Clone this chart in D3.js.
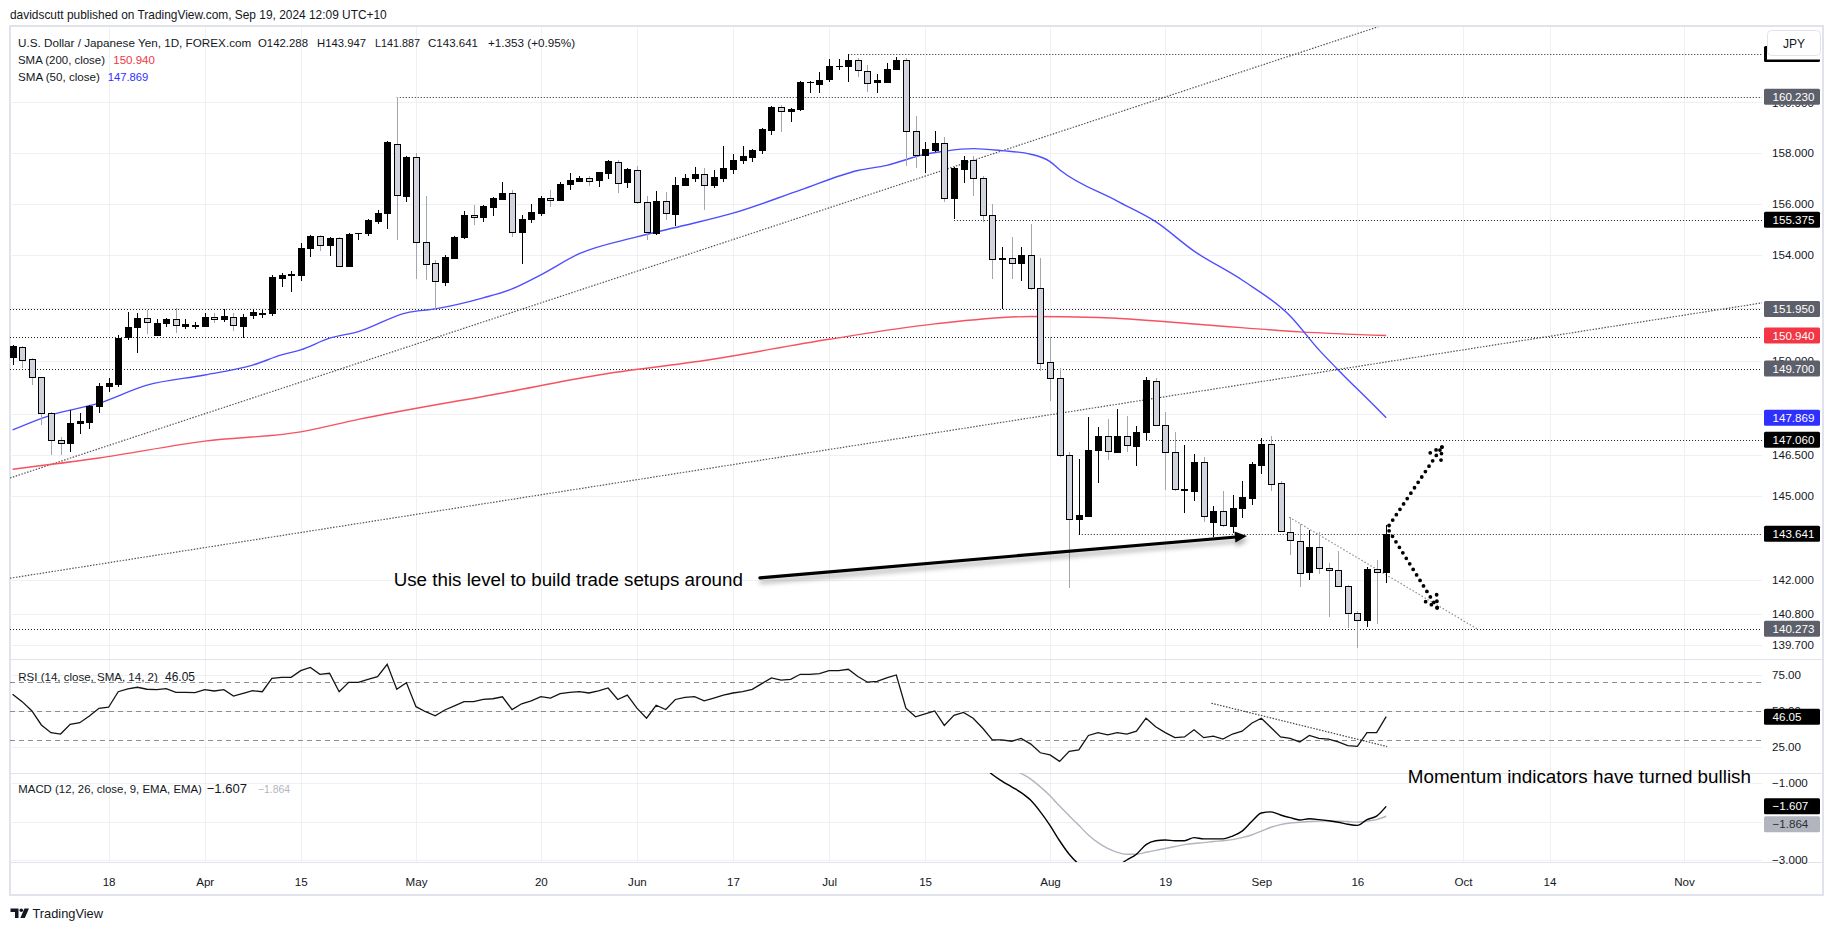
<!DOCTYPE html>
<html><head><meta charset="utf-8">
<script src="https://cdn.jsdelivr.net/npm/d3@7"></script>
<style>
html,body{margin:0;padding:0;background:#fff;}
svg{display:block;font-family:"Liberation Sans",Arial,sans-serif;}
</style></head><body>
<svg id="chart" width="1835" height="931"></svg>
<script>
// ---------------- DATA ----------------
const firstDay = "2024-03-04";
const opens = [150.12,150.52,150.05,149.37,148.04,147.05,146.93,147.67,147.72,148.31,
149.05,149.14,150.86,151.25,151.59,150.97,151.41,151.56,151.30,151.30,
151.30,151.63,151.56,151.65,151.30,151.73,151.76,151.78,153.15,153.25,
153.25,154.27,154.75,154.39,154.65,153.60,154.84,154.84,155.33,155.64,
158.34,156.30,157.82,154.52,153.69,152.99,153.92,154.70,155.56,155.47,
155.87,156.18,156.40,154.88,155.39,155.66,156.23,156.16,156.78,156.90,
157.00,156.90,157.20,157.65,156.83,157.30,156.05,154.87,156.10,155.62,
156.74,157.02,157.16,156.70,156.99,157.39,157.70,157.82,158.09,158.90,
159.80,159.65,159.70,160.78,160.76,160.93,161.45,161.47,161.70,161.27,
160.80,160.85,161.36,161.72,158.86,157.89,158.10,158.38,156.20,157.39,
157.73,157.00,155.56,153.85,153.90,153.71,154.01,152.76,149.93,149.34,
146.50,144.16,144.28,146.69,147.18,146.63,147.18,146.83,147.33,149.25,
147.60,146.60,145.25,145.20,146.26,144.05,144.46,143.92,144.58,144.95,
146.16,146.92,145.47,143.72,143.40,142.27,143.16,142.41,142.35,141.79,
140.82,140.56,142.38,142.288];
const highs = [150.58,150.55,150.10,149.40,148.10,147.17,148.16,148.04,148.35,149.15,
149.33,150.97,151.85,151.78,151.90,151.56,151.60,151.97,151.56,151.44,
151.78,151.78,151.93,151.78,151.75,151.93,151.90,153.24,153.33,153.40,
154.49,154.79,154.79,154.72,154.70,154.85,154.86,155.39,155.76,158.45,
160.20,157.87,158.00,156.28,153.82,154.00,154.75,155.70,155.95,155.95,
156.26,156.83,156.55,155.56,155.98,156.28,156.55,156.85,157.19,157.10,
157.10,157.25,157.71,157.70,157.40,157.47,156.30,156.50,156.45,157.06,
157.17,157.45,157.40,157.30,158.25,157.96,158.25,158.16,158.97,159.87,
159.90,159.77,160.87,160.87,161.23,161.75,161.75,161.95,161.80,161.50,
161.13,161.59,161.82,161.78,159.45,158.42,158.86,158.64,157.45,157.86,
157.86,157.10,156.00,154.33,154.72,154.33,155.22,153.90,150.88,149.73,
146.60,146.34,147.90,147.52,147.82,148.20,147.93,147.58,149.38,149.35,
148.07,147.35,146.86,146.52,146.44,144.65,145.18,145.03,145.54,146.24,
147.14,147.18,145.55,144.26,144.00,143.78,143.71,142.60,143.03,141.80,
140.88,142.45,142.71,143.947];
const lows = [149.83,149.71,149.08,147.61,146.50,146.50,146.62,147.27,147.45,148.06,
148.82,149.00,150.78,150.30,151.00,150.95,151.25,151.05,151.18,151.20,
151.25,151.43,151.45,151.10,150.83,151.57,151.60,151.68,152.80,152.60,
153.00,153.95,154.18,153.98,153.58,153.57,154.57,154.75,155.20,155.00,
154.59,156.08,153.10,153.05,151.89,152.82,153.88,154.62,155.17,155.30,
155.52,156.14,154.71,153.65,155.26,155.53,155.87,156.13,156.55,156.85,
156.70,156.64,156.95,156.41,156.60,155.99,154.59,154.80,155.36,155.12,
156.72,156.86,155.75,156.60,156.83,157.15,157.55,157.63,157.96,158.71,
158.80,159.22,159.65,160.36,160.36,160.82,161.32,160.83,161.00,160.40,
160.36,160.78,161.30,157.48,157.41,157.20,158.02,156.06,155.39,156.80,
156.30,155.27,153.10,151.94,153.10,153.00,152.65,149.60,148.50,146.44,
141.70,143.60,144.28,145.47,146.32,146.60,146.60,146.09,147.05,147.60,
145.21,145.20,144.40,144.83,144.05,143.52,143.90,143.66,144.22,144.67,
145.80,145.17,143.70,142.89,141.76,142.00,142.21,140.70,141.79,140.30,
139.60,140.33,140.44,141.887];
const closes = [150.54,150.05,149.37,148.04,147.05,146.93,147.67,147.76,148.31,149.05,
149.15,150.86,151.25,151.59,151.43,151.41,151.56,151.33,151.37,151.35,
151.63,151.56,151.68,151.34,151.63,151.83,151.81,153.15,153.26,153.27,
154.27,154.75,154.40,154.65,153.59,154.84,154.85,155.36,155.64,158.43,
156.32,157.82,154.52,153.69,152.99,153.94,154.72,155.56,155.47,155.90,
156.22,156.42,154.88,155.39,155.66,156.23,156.16,156.78,156.93,157.00,
156.90,157.22,157.67,156.83,157.35,156.05,154.88,156.10,155.62,156.74,
157.02,157.16,156.71,157.03,157.39,157.73,157.87,158.10,158.93,159.83,
159.66,159.72,160.80,160.80,160.91,161.45,161.47,161.70,161.30,160.80,
160.90,161.36,161.72,158.86,157.89,158.13,158.38,156.20,157.39,157.73,
157.02,155.56,153.87,153.90,153.71,154.01,152.76,149.93,149.34,146.49,
144.16,144.31,146.69,147.20,146.63,147.20,146.84,147.33,149.27,147.61,
146.60,145.25,145.27,146.26,144.30,144.46,143.94,144.58,144.97,146.18,
146.92,145.47,143.72,143.42,142.27,143.16,142.41,142.33,141.79,140.82,
140.56,142.38,142.29,143.641];

// moving averages (bar index, value)
const sma50At = [0,4,9,14,20,25,28,30,33,36,41,44,49,52,55,59,65,70,75,82,88,91,95,97,100,103,106,108,109,115,119,123,128,133,136,138,142,143];
const sma50 = [147.42,147.97,148.41,149.08,149.46,149.83,150.21,150.40,150.84,151.09,151.80,151.95,152.37,152.71,153.25,154.06,154.71,155.16,155.63,156.53,157.30,157.50,157.94,158.06,158.16,158.08,157.94,157.65,157.33,156.10,155.30,154.16,153.05,151.68,150.40,149.65,148.23,147.869];
const sma200At = [0,9,20,30,36,51,61,72,85,96,106,113,124,134,143];
const sma200 = [145.98,146.39,147.01,147.35,147.81,148.79,149.46,150.00,150.80,151.38,151.66,151.62,151.35,151.08,150.94];

// RSI (14)
const rsiAt = d3.range(0,144);
const rsi = [61.6,56.5,50.2,40.3,34.9,34.0,40.8,41.9,46.5,51.9,
52.6,63.4,65.3,66.5,65.1,64.8,65.5,63.0,63.0,62.7,
64.8,63.9,64.8,60.4,62.3,64.1,63.4,72.7,73.4,73.4,
78.0,80.3,75.5,76.2,63.4,69.9,69.9,72.0,73.8,82.4,
65.1,69.7,53.0,49.5,46.7,50.7,53.5,56.5,56.5,58.1,
58.5,59.9,51.0,55.0,57.0,60.0,59.0,62.0,63.0,63.5,
62.5,64.0,66.0,58.0,61.0,52.0,45.0,54.0,51.0,58.0,
59.5,60.0,57.0,59.0,61.0,62.5,63.5,65.0,69.0,73.0,
71.5,72.0,75.5,75.5,76.0,78.0,78.0,79.0,74.0,70.0,
70.5,73.0,75.0,52.0,46.0,48.0,50.0,40.0,47.0,49.0,
45.0,38.0,30.0,30.0,29.0,31.0,27.0,21.0,19.5,15.0,
22.0,23.0,33.0,35.0,33.5,35.0,34.0,36.0,45.0,39.0,
35.0,31.5,32.0,37.0,31.5,32.5,30.5,34.0,36.0,41.5,
45.0,38.5,32.0,31.0,28.5,33.0,31.0,30.5,28.5,26.0,
25.5,35.0,35.0,46.05];

// MACD (12,26,9)
const macdAt = d3.range(101,144);
const macd = [-0.55,-0.78,-0.95,-1.10,-1.25,-1.45,-1.75,-2.10,-2.50,-2.85,
-3.10,-3.20,-3.25,-3.22,-3.15,-3.00,-2.85,-2.60,-2.50,-2.48,
-2.50,-2.50,-2.42,-2.45,-2.45,-2.45,-2.38,-2.25,-2.00,-1.78,
-1.75,-1.83,-1.90,-1.96,-1.93,-1.95,-1.98,-2.02,-2.07,-2.10,
-1.95,-1.86,-1.607];
const signalAt = d3.range(104,144);
const signal = [-0.60,-0.75,-0.90,-1.10,-1.33,-1.60,-1.85,-2.10,-2.35,-2.55,
-2.70,-2.80,-2.85,-2.85,-2.80,-2.75,-2.70,-2.65,-2.60,-2.57,
-2.55,-2.52,-2.50,-2.47,-2.42,-2.35,-2.25,-2.15,-2.08,-2.04,
-2.02,-2.00,-1.99,-1.98,-1.99,-2.00,-2.02,-1.99,-1.95,-1.864];

// axis ticks (labelled ticks, plus grid-only levels hidden behind tags in the picture)
const priceTicks = [160,158,156,154,150,146.5,145,142,140.8,139.7];
const priceGrid = [160,158,156,154,152,150,148,146.5,145,142,140.8,139.7];
const rsiTicks = [75,50,25];
const macdTicks = [-1,-3];
const macdGrid = [-1,-2,-3];
const tickDates = ["2024-03-18","2024-04-01","2024-04-15","2024-05-01","2024-05-20","2024-06-03","2024-06-17","2024-07-01","2024-07-15","2024-08-01","2024-08-19","2024-09-02","2024-09-16","2024-10-01","2024-10-14","2024-11-01"];
const tickLabels = ["18","Apr","15","May","20","Jun","17","Jul","15","Aug","19","Sep","16","Oct","14","Nov"];

// horizontal levels (price, starting date; null = from the left edge)
const levelPrices = [161.95,160.23,155.375,151.95,150.9,149.7,147.06,143.641,140.273];
const levelFrom = ["2024-07-03","2024-04-29","2024-07-18",null,null,null,"2024-08-15","2024-08-06",null];

// price tags on the right scale
const tagPrices = [161.95,160.23,155.375,151.95,150.94,149.7,147.869,147.06,143.641,140.273];
const tagLabels = ["161.950","160.230","155.375","151.950","150.940","149.700","147.869","147.060","143.641","140.273"];

// trend lines (bar index, price)
const upTrend = [[0,145.69],[130,161.49]];
const lowTrend = [[0,142.07],[182,152.17]];
const sepTrend = [[132.9,144.24],[152.5,140.26]];
const rsiTrend = [[124.8,55.4],[143.1,25.3]];
const mainArrow = [[77.8,142.07],[128.5,143.56]];
const upArrow = [[143.3,143.94],[148.8,146.79]];
const downArrow = [[143.3,143.75],[148.3,141.01]];

// ---------------- LAYOUT ----------------
const L=10, R=1762, AXR=1823;
const mainTop=27, mainBot=659, rsiBot=773, macdBot=862, axisBot=895;
const TXT="#131722", GRID="#eef0f4", BORDER="#e0e3eb";

const svg = d3.select("#chart");
svg.append("rect").attr("width",1835).attr("height",931).attr("fill","#fff");
const defs = svg.append("defs");
defs.append("clipPath").attr("id","cMain").append("rect").attr("x",L).attr("y",mainTop).attr("width",R-L).attr("height",mainBot-mainTop);
defs.append("clipPath").attr("id","cRsi").append("rect").attr("x",L).attr("y",mainBot).attr("width",R-L).attr("height",rsiBot-mainBot);
defs.append("clipPath").attr("id","cMacd").append("rect").attr("x",L).attr("y",rsiBot).attr("width",R-L).attr("height",macdBot-rsiBot);
const f = defs.append("filter").attr("id","shadow").attr("x","-10%").attr("y","-200%").attr("width","120%").attr("height","500%");
f.append("feDropShadow").attr("dx",1).attr("dy",4).attr("stdDeviation",2.5).attr("flood-color","#000").attr("flood-opacity",0.35);

// trading days
const days=[]; { let d=new Date(firstDay+"T00:00:00Z"); while(days.length<200){ const w=d.getUTCDay(); if(w!==0&&w!==6) days.push(d.toISOString().slice(0,10)); d.setUTCDate(d.getUTCDate()+1);} }
const idx = s => days.indexOf(s);

// scales
const xs = d3.scaleLinear().domain([0,100]).range([12.54, 12.54+960.6]);
const ys = d3.scaleLog().domain([158,139.7]).range([152.7,645.1]);
const yr = d3.scaleLinear().domain([50,25]).range([711,747]);
const ym = d3.scaleLinear().domain([-1,-3]).range([783,860]);
const tickIdx = tickDates.map(idx);

function fit(sel,w){ const n=sel.node(); const fs=parseFloat(sel.attr("font-size")); const cw=n.getComputedTextLength(); sel.attr("font-size",(fs*w/cw).toFixed(2)); return sel; }
// header
fit(svg.append("text").attr("x",10).attr("y",19).attr("font-size",12).attr("fill",TXT).text("davidscutt published on TradingView.com, Sep 19, 2024 12:09 UTC+10"),377);

// frame
svg.append("rect").attr("x",L).attr("y",26).attr("width",AXR-L).attr("height",axisBot-26).attr("fill","none").attr("stroke",BORDER).attr("stroke-width",2);

// grid
const grid = svg.append("g").attr("shape-rendering","crispEdges");
grid.selectAll("line.v").data(tickIdx).join("line").attr("x1",d=>Math.round(xs(d))+0.5).attr("x2",d=>Math.round(xs(d))+0.5).attr("y1",27).attr("y2",macdBot).attr("stroke",GRID);
grid.selectAll("line.p").data(priceGrid).join("line").attr("class","p").attr("x1",L).attr("x2",R).attr("y1",d=>Math.round(ys(d))+0.5).attr("y2",d=>Math.round(ys(d))+0.5).attr("stroke",GRID);
grid.selectAll("line.r").data(rsiTicks).join("line").attr("class","r").attr("x1",L).attr("x2",R).attr("y1",d=>Math.round(yr(d))+0.5).attr("y2",d=>Math.round(yr(d))+0.5).attr("stroke",GRID);
grid.selectAll("line.m").data(macdGrid).join("line").attr("class","m").attr("x1",L).attr("x2",R).attr("y1",d=>Math.round(ym(d))+0.5).attr("y2",d=>Math.round(ym(d))+0.5).attr("stroke",GRID);
[mainBot, rsiBot, macdBot].forEach(v=>svg.append("line").attr("x1",L).attr("x2",AXR).attr("y1",v+0.5).attr("y2",v+0.5).attr("stroke",BORDER).attr("shape-rendering","crispEdges"));

// ---------- main pane ----------
const gm = svg.append("g").attr("clip-path","url(#cMain)");
gm.selectAll("line.lvl").data(levelPrices).join("line")
  .attr("x1",(d,k)=>levelFrom[k]?xs(idx(levelFrom[k])):L).attr("x2",R)
  .attr("y1",d=>Math.round(ys(d))+0.5).attr("y2",d=>Math.round(ys(d))+0.5)
  .attr("stroke","#222").attr("stroke-width",1).attr("stroke-dasharray","1 2");
function extLine(pts, x0, x1){ const [a,b]=pts; const ax=xs(a[0]), ay=ys(a[1]), bx=xs(b[0]), by=ys(b[1]); const s=(by-ay)/(bx-ax); return [[x0, ay+s*(x0-ax)],[x1, ay+s*(x1-ax)]]; }
[upTrend, lowTrend].forEach(t=>{ const p=extLine(t,L,R); gm.append("line").attr("x1",p[0][0]).attr("y1",p[0][1]).attr("x2",p[1][0]).attr("y2",p[1][1]).attr("stroke","#555").attr("stroke-width",1.2).attr("stroke-dasharray","1.5 1.5"); });
gm.append("line").attr("x1",xs(sepTrend[0][0])).attr("y1",ys(sepTrend[0][1])).attr("x2",xs(sepTrend[1][0])).attr("y2",ys(sepTrend[1][1])).attr("stroke","#8a8d96").attr("stroke-width",1.2).attr("stroke-dasharray","1.5 2");
const lineGen = d3.line().curve(d3.curveMonotoneX);
gm.append("path").attr("d",lineGen(sma200At.map((d,k)=>[xs(d),ys(sma200[k])]))).attr("fill","none").attr("stroke","#f7525f").attr("stroke-width",1.4);
gm.append("path").attr("d",lineGen(sma50At.map((d,k)=>[xs(d),ys(sma50[k])]))).attr("fill","none").attr("stroke","#4e4eff").attr("stroke-width",1.4);
const candles = opens.map((o,i)=>({i,o,h:highs[i],l:lows[i],c:closes[i],up:closes[i]>=o}));
const gc = gm.append("g").attr("shape-rendering","crispEdges");
gc.selectAll("line").data(candles).join("line")
  .attr("x1",d=>Math.round(xs(d.i))+0.5).attr("x2",d=>Math.round(xs(d.i))+0.5)
  .attr("y1",d=>ys(d.h)).attr("y2",d=>ys(d.l))
  .attr("stroke",d=>d.up?"#000":"#a3a6af").attr("stroke-width",1);
gc.selectAll("rect").data(candles).join("rect")
  .attr("x",d=>Math.round(xs(d.i))-2.5).attr("width",6)
  .attr("y",d=>Math.round(Math.min(ys(d.o),ys(d.c)))+0.5)
  .attr("height",d=>Math.max(0.01,Math.round(Math.abs(ys(d.o)-ys(d.c)))))
  .attr("fill",d=>d.up?"#000":"#d1d4dc").attr("stroke","#000").attr("stroke-width",1);
function arrowPts(a){ const sx=xs(a[0][0]), sy=ys(a[0][1]), tx=xs(a[1][0]), ty=ys(a[1][1]); const len=Math.hypot(tx-sx,ty-sy); const ux=(tx-sx)/len, uy=(ty-sy)/len; return {sx,sy,tx,ty,ux,uy}; }
{ const a=arrowPts(mainArrow); const hl=12, hw=5.5; const bx=a.tx-a.ux*hl, by=a.ty-a.uy*hl;
  const ga=gm.append("g").attr("filter","url(#shadow)");
  ga.append("line").attr("x1",a.sx).attr("y1",a.sy).attr("x2",bx+a.ux).attr("y2",by+a.uy).attr("stroke","#000").attr("stroke-width",3.2).attr("stroke-linecap","round");
  ga.append("polygon").attr("points",[[a.tx,a.ty],[bx-a.uy*hw,by+a.ux*hw],[bx+a.uy*hw,by-a.ux*hw]].map(p=>p.join(",")).join(" ")).attr("fill","#000");
}
[upArrow, downArrow].forEach(ar=>{ const a=arrowPts(ar); const g=gm.append("g").attr("stroke","#000").attr("stroke-width",3.8).attr("stroke-linecap","round").attr("stroke-dasharray","0 6.5").attr("fill","none");
  g.append("line").attr("x1",a.sx).attr("y1",a.sy).attr("x2",a.tx).attr("y2",a.ty);
  [Math.PI/6,-Math.PI/6].forEach(t=>{ const c=Math.cos(t), s=Math.sin(t); const dx=-(a.ux*c - a.uy*s), dy=-(a.ux*s + a.uy*c); g.append("line").attr("x1",a.tx).attr("y1",a.ty).attr("x2",a.tx+dx*16).attr("y2",a.ty+dy*16); });
});
{ const a=arrowPts(mainArrow);
  fit(svg.append("text").attr("x",a.sx-17).attr("y",a.sy+8).attr("text-anchor","end").attr("font-size",18.7).attr("fill","#000").text("Use this level to build trade setups around"),349);
}

// legend (each label fitted to the width it takes in the picture)
const lg = svg.append("g").attr("fill",TXT);
function lab(x,y,w,t,col){ return fit(lg.append("text").attr("x",x).attr("y",y).attr("font-size",12).attr("fill",col||TXT).text(t),w); }
const t1 = lab(18,47,233.4,"U.S. Dollar / Japanese Yen, 1D, FOREX.com");
lab(258,47,50,"O142.288"); lab(317,47,49,"H143.947"); lab(375,47,45,"L141.887"); lab(428,47,50,"C143.641");
lg.append("text").attr("x",488).attr("y",47).attr("font-size",t1.attr("font-size")).attr("fill",TXT).text("+1.353 (+0.95%)");
lab(18,64,87,"SMA (200, close)"); lab(113.3,64,41.7,"150.940","#f23645");
lab(18,80.5,82,"SMA (50, close)"); lab(107.7,80.5,40.6,"147.869","#2f2fff");

// ---------- RSI pane ----------
const gr = svg.append("g").attr("clip-path","url(#cRsi)");
gr.selectAll("line.band").data([70,50,30]).join("line").attr("x1",L).attr("x2",R)
  .attr("y1",d=>Math.round(yr(d))+0.5).attr("y2",d=>Math.round(yr(d))+0.5)
  .attr("stroke","#8a8d96").attr("stroke-dasharray","5 4").attr("shape-rendering","crispEdges");
gr.append("path").attr("d",d3.line()(rsiAt.map((d,k)=>[xs(d),yr(rsi[k])]))).attr("fill","none").attr("stroke","#131313").attr("stroke-width",1.3);
gr.append("line").attr("x1",xs(rsiTrend[0][0])).attr("y1",yr(rsiTrend[0][1])).attr("x2",xs(rsiTrend[1][0])).attr("y2",yr(rsiTrend[1][1])).attr("stroke","#444").attr("stroke-width",1.2).attr("stroke-dasharray","1.5 1.5");
lab(18.3,681,139.7,"RSI (14, close, SMA, 14, 2)"); lab(165,681,30,"46.05");

// ---------- MACD pane ----------
const gmc = svg.append("g").attr("clip-path","url(#cMacd)");
gmc.append("path").attr("d",lineGen(signalAt.map((d,k)=>[xs(d),ym(signal[k])]))).attr("fill","none").attr("stroke","#b2b5be").attr("stroke-width",1.4);
gmc.append("path").attr("d",lineGen(macdAt.map((d,k)=>[xs(d),ym(macd[k])]))).attr("fill","none").attr("stroke","#000").attr("stroke-width",1.4);
lab(18.3,792.5,183.7,"MACD (12, 26, close, 9, EMA, EMA)");
lab(206.7,792.5,40.3,"\u22121.607"); lab(258,792.5,32,"\u22121.864","#b2b5be");

fit(svg.append("text").attr("x",1751).attr("y",783).attr("text-anchor","end").attr("font-size",18.7).attr("fill","#000").text("Momentum indicators have turned bullish"),343);

// ---------- axes ----------
function styleAxis(g){ g.select(".domain").remove(); g.selectAll("text").attr("fill",TXT).attr("font-size",11.6).attr("font-family","Liberation Sans, Arial, sans-serif"); }
svg.append("g").attr("transform",`translate(${R},0)`).call(d3.axisRight(ys).tickValues(priceTicks).tickFormat(d3.format(".3f")).tickSize(0).tickPadding(10)).call(styleAxis);
svg.append("g").attr("transform",`translate(${R},0)`).call(d3.axisRight(yr).tickValues(rsiTicks).tickFormat(d3.format(".2f")).tickSize(0).tickPadding(10)).call(styleAxis);
svg.append("g").attr("transform",`translate(${R},0)`).call(d3.axisRight(ym).tickValues(macdTicks).tickFormat(d3.format(".3f")).tickSize(0).tickPadding(10)).call(styleAxis);
svg.append("g").attr("transform",`translate(0,${macdBot})`).call(d3.axisBottom(xs).tickValues(tickIdx).tickFormat((d,k)=>tickLabels[k]).tickSize(0).tickPadding(16)).call(styleAxis);

// tags
const tagFill = ["#000","#5d606b","#000","#5d606b","#f23645","#5d606b","#2f2fff","#000","#000","#5d606b"];
function tag(yv, label, fill, txt){ const g=svg.append("g"); g.append("rect").attr("x",1764).attr("y",yv-8).attr("width",56).attr("height",16).attr("rx",1.5).attr("fill",fill);
  g.append("text").attr("x",1772.5).attr("y",yv).attr("dy","0.35em").attr("font-size",11.6).attr("fill",txt||"#fff").text(label); }
tagPrices.forEach((p,k)=>tag(ys(p),tagLabels[k],tagFill[k]));
tag(yr(46.05),"46.05","#000");
const macdTagY = ym(-1.607), sigTagY = Math.max(ym(-1.864), macdTagY + 18);
tag(sigTagY,"\u22121.864","#b2b5be","#2a2e39");
tag(macdTagY,"\u22121.607","#000");
// currency button
svg.append("rect").attr("x",1767).attr("y",29).attr("width",54).attr("height",30.5).attr("fill","#fff");
svg.append("rect").attr("x",1767.5).attr("y",30.5).attr("width",53).attr("height",25).attr("rx",4).attr("fill","#fff").attr("stroke","#e0e3eb");
svg.append("text").attr("x",1794).attr("y",47.5).attr("text-anchor","middle").attr("font-size",12).attr("fill",TXT).text("JPY");

// logo
const logo = svg.append("g").attr("fill",TXT);
logo.append("path").attr("d","M10.5,908.5 h8 v9.5 h-3.5 v-6 h-4.5 z");
logo.append("circle").attr("cx",21.3).attr("cy",910.3).attr("r",1.8);
logo.append("path").attr("d","M24.5,908.5 h4.5 l-4.2,9.5 h-4.5 z");
fit(logo.append("text").attr("x",32.4).attr("y",918).attr("font-size",13).text("TradingView"),70.6);
</script>
</body></html>
